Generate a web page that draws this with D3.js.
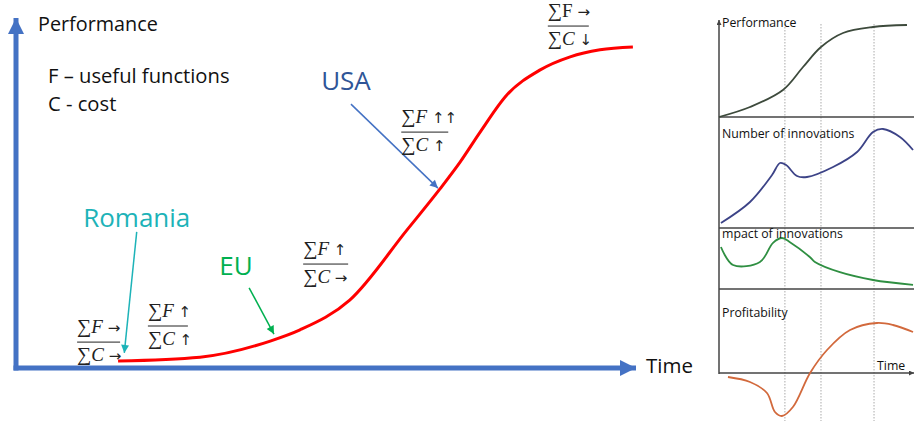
<!DOCTYPE html>
<html>
<head>
<meta charset="utf-8">
<script src="https://cdn.jsdelivr.net/npm/d3@7"></script>
<style>
  body { margin: 0; background: #fff; }
  svg { display: block; }
  .lbl { font-family: "Open Sans", "Noto Sans", sans-serif; }
  .frac { font-family: "Liberation Serif", "DejaVu Serif", serif; font-size: 19px; fill: #222; }
  .sig { font-size: 20px; }
  .arr { font-family: "DejaVu Sans", sans-serif; font-size: 15px; }
</style>
</head>
<body>
<script>
// main S-curve: time vs performance (arbitrary units 0..10)
var curveTime = [1.66, 2.98, 4.11, 4.59, 5.39, 6.31, 6.84, 7.17, 7.49, 7.92, 8.45, 8.94, 9.42, 9.95];
var curvePerf = [0.2, 0.31, 0.77, 1.09, 1.94, 3.94, 5.11, 5.89, 6.74, 7.8, 8.51, 8.89, 9.09, 9.17];

// country callouts (label position + arrow from/to, in data units)
var callouts = [
  {name: "Romania", color: "#1db3b8", arrow: "#1db3b8", t: 1.96, p: 4.03, from: [1.96, 3.89], to: [1.76, 0.43]},
  {name: "EU", color: "#00b050", arrow: "#00b050", t: 3.56, p: 2.66, from: [3.77, 2.29], to: [4.17, 0.97]},
  {name: "USA", color: "#2f5597", arrow: "#4472c4", t: 5.33, p: 7.94, from: [5.41, 7.54], to: [6.81, 5.14]}
];

// sum F / sum C fractions
var fracNum = ["→", "↑", "↑", "↑↑", "→"];
var fracDen = ["→", "↑", "→", "↑", "↓"];
var fracT = [1.0, 2.14, 4.64, 6.22, 8.58];
var fracP = [0.74, 1.2, 2.97, 6.74, 9.77];
var fracW = [43, 40, 45, 47, 41];

// inset: four stacked panels
var perfT = [0, 1.59, 3.28, 4.31, 5.23, 6.36, 7.9, 9.64];
var perfV = [0, 0.1, 0.27, 0.5, 0.7, 0.84, 0.9, 0.92];
var innovT = [0.1, 1.59, 2.72, 3.13, 3.44, 4.0, 4.51, 5.85, 7.08, 7.9, 8.41, 9.28, 9.95];
var innovV = [0.05, 0.26, 0.53, 0.65, 0.63, 0.52, 0.51, 0.61, 0.76, 0.96, 0.99, 0.91, 0.78];
var impactT = [0.1, 0.72, 2.1, 2.77, 3.23, 3.64, 4.67, 4.92, 6.2, 7.9, 9.95];
var impactV = [0.7, 0.4, 0.45, 0.77, 0.85, 0.78, 0.53, 0.45, 0.28, 0.15, 0.07];
var profitT = [0.46, 1.59, 2.46, 2.87, 3.23, 3.79, 4.67, 5.54, 6.72, 8.1, 8.92, 9.95];
var profitV = [-0.08, -0.18, -0.4, -0.78, -0.86, -0.68, 0, 0.46, 0.86, 1.0, 0.96, 0.82];
var phaseT = [3.38, 5.23, 7.95];

var width = 914, height = 421;

var svg = d3.select("body").append("svg")
    .attr("width", width)
    .attr("height", height);

var defs = svg.append("defs");
function marker(id, color, w, h) {
    defs.append("marker")
        .attr("id", id)
        .attr("markerUnits", "userSpaceOnUse")
        .attr("viewBox", "0 0 10 10")
        .attr("refX", 10).attr("refY", 5)
        .attr("markerWidth", w).attr("markerHeight", h)
        .attr("orient", "auto")
        .append("path")
        .attr("d", "M0,0L10,5L0,10Z")
        .attr("fill", color);
}
marker("axisHead", "#4472c4", 16, 16);
marker("insetHead", "#444", 5, 5);
callouts.forEach(function(c, i) { marker("call" + i, c.arrow, 9, 8); });

// ---------- main chart ----------
var x = d3.scaleLinear().domain([0, 10]).range([15, 636]);
var y = d3.scaleLinear().domain([0, 10]).range([368, 18]);

svg.append("line")
    .attr("x1", x(0) + 1).attr("y1", y(0) + 2.5)
    .attr("x2", x(0) + 1).attr("y2", y(10))
    .attr("stroke", "#4472c4").attr("stroke-width", 5)
    .attr("marker-end", "url(#axisHead)");
svg.append("line")
    .attr("x1", x(0) - 1.5).attr("y1", y(0))
    .attr("x2", x(10)).attr("y2", y(0))
    .attr("stroke", "#4472c4").attr("stroke-width", 5)
    .attr("marker-end", "url(#axisHead)");

svg.append("text").attr("class", "lbl")
    .attr("x", 38).attr("y", 31)
    .attr("font-size", 19.8).attr("fill", "#111")
    .text("Performance");
svg.append("text").attr("class", "lbl")
    .attr("x", x(10) + 10).attr("y", y(0) + 5)
    .attr("font-size", 20.5).attr("fill", "#111")
    .text("Time");
svg.append("text").attr("class", "lbl")
    .attr("x", 48).attr("y", 83)
    .attr("font-size", 20.2).attr("fill", "#111")
    .text("F – useful functions");
svg.append("text").attr("class", "lbl")
    .attr("x", 48).attr("y", 111)
    .attr("font-size", 20.2).attr("fill", "#111")
    .text("C - cost");

var line = d3.line()
    .x(function(d) { return x(d[0]); })
    .y(function(d) { return y(d[1]); })
    .curve(d3.curveMonotoneX);

svg.append("path")
    .datum(d3.zip(curveTime, curvePerf))
    .attr("d", line)
    .attr("fill", "none")
    .attr("stroke", "#ff0000")
    .attr("stroke-width", 3);

callouts.forEach(function(c, i) {
    svg.append("text").attr("class", "lbl")
        .attr("x", x(c.t)).attr("y", y(c.p))
        .attr("text-anchor", "middle")
        .attr("font-size", 26)
        .attr("fill", c.color)
        .text(c.name);
    svg.append("line")
        .attr("x1", x(c.from[0])).attr("y1", y(c.from[1]))
        .attr("x2", x(c.to[0])).attr("y2", y(c.to[1]))
        .attr("stroke", c.arrow).attr("stroke-width", 1.5)
        .attr("marker-end", "url(#call" + i + ")");
});

fracT.forEach(function(t, i) {
    var g = svg.append("g")
        .attr("transform", "translate(" + x(t) + "," + y(fracP[i]) + ")");
    var num = g.append("text").attr("class", "frac").attr("x", 0).attr("y", -9);
    num.append("tspan").attr("class", "sig").text("∑");
    num.append("tspan").attr("font-style", i == 4 ? "normal" : "italic").text("F ");
    num.append("tspan").attr("class", "arr").text(fracNum[i]);
    var den = g.append("text").attr("class", "frac").attr("x", 0).attr("y", 19);
    den.append("tspan").attr("class", "sig").text("∑");
    den.append("tspan").attr("font-style", "italic").text("C ");
    den.append("tspan").attr("class", "arr").text(fracDen[i]);
    g.append("line")
        .attr("x1", 0).attr("x2", fracW[i])
        .attr("y1", 0).attr("y2", 0)
        .attr("stroke", "#222").attr("stroke-width", 1);
});

// ---------- inset ----------
var ix = d3.scaleLinear().domain([0, 10]).range([719, 914]);
var panels = [
    {title: "Performance", t: perfT, v: perfV, y: d3.scaleLinear().domain([0, 1]).range([117, 17]), color: "#3d4a3c", ty: 27},
    {title: "Number of innovations", t: innovT, v: innovV, y: d3.scaleLinear().domain([0, 1]).range([228, 128]), color: "#3c4387", ty: 138},
    {title: "mpact of innovations", t: impactT, v: impactV, y: d3.scaleLinear().domain([0, 1]).range([289, 229]), color: "#2f8f42", ty: 238},
    {title: "Profitability", t: profitT, v: profitV, y: d3.scaleLinear().domain([0, 1]).range([373, 323]), color: "#d2693c", ty: 317}
];

svg.selectAll(".phase")
    .data(phaseT)
    .enter().append("line")
    .attr("class", "phase")
    .attr("x1", function(d) { return ix(d); })
    .attr("x2", function(d) { return ix(d); })
    .attr("y1", 24).attr("y2", 421)
    .attr("stroke", "#aaa")
    .attr("stroke-width", 1)
    .attr("stroke-dasharray", "1.5,1.5");

svg.append("line")
    .attr("x1", ix(0)).attr("x2", ix(0))
    .attr("y1", 374).attr("y2", 20)
    .attr("stroke", "#444").attr("stroke-width", 1.5)
    .attr("marker-end", "url(#insetHead)");

panels.forEach(function(p, i) {
    var base = svg.append("line")
        .attr("x1", ix(0)).attr("x2", ix(10))
        .attr("y1", p.y(0)).attr("y2", p.y(0))
        .attr("stroke", "#444").attr("stroke-width", 1.5);
    if (i == 3) base.attr("marker-end", "url(#insetHead)");

    var l = d3.line()
        .x(function(d) { return ix(d[0]); })
        .y(function(d) { return p.y(d[1]); })
        .curve(d3.curveCatmullRom.alpha(0.5));
    svg.append("path")
        .datum(d3.zip(p.t, p.v))
        .attr("d", l)
        .attr("fill", "none")
        .attr("stroke", p.color)
        .attr("stroke-width", 1.8);

    svg.append("text").attr("class", "lbl")
        .attr("x", ix(0) + 3).attr("y", p.ty)
        .attr("font-size", 12.3).attr("fill", "#111")
        .text(p.title);
});

svg.append("text").attr("class", "lbl")
    .attr("x", 877).attr("y", 370)
    .attr("font-size", 12.3).attr("fill", "#111")
    .text("Time");
</script>
</body>
</html>
